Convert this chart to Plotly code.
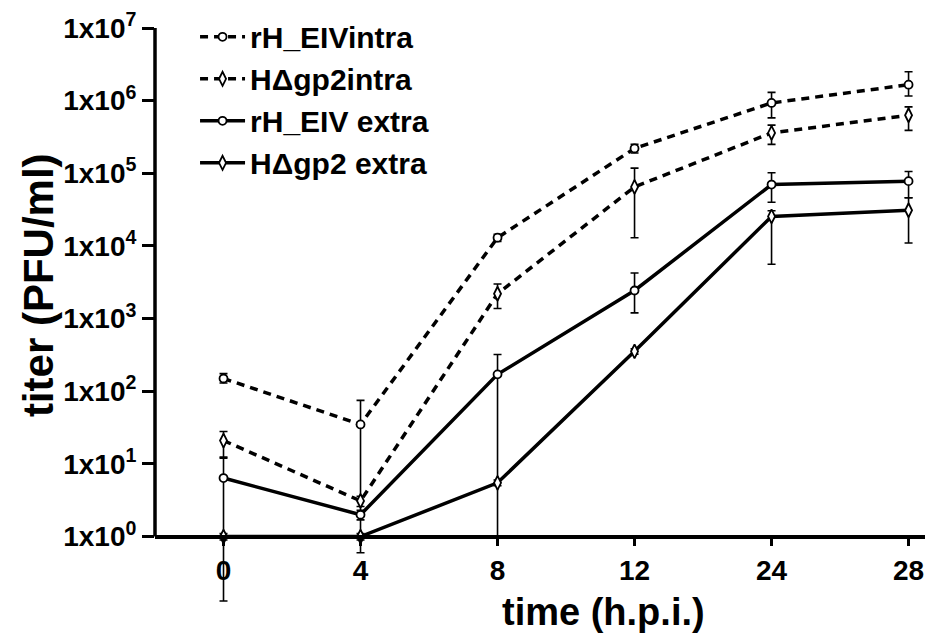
import plotly.graph_objects as go

times = ["0", "4", "8", "12", "24", "28"]

names = ["rH_EIVintra", "HΔgp2intra", "rH_EIV extra", "HΔgp2 extra"]

rh_intra = [150, 35, 13000, 220000, 930000, 1660000]
rh_intra_up = [25, 40, 1500, 30000, 370000, 840000]
rh_intra_dn = [20, 34.4, 1500, 30000, 350000, 500000]

hd_intra = [21, 3.1, 2200, 65000, 360000, 630000]
hd_intra_up = [7, 0.5, 800, 53000, 100000, 190000]
hd_intra_dn = [9, 0.5, 820, 52000, 110000, 240000]

hd_extra = [1.0, 1.0, 5.5, 355, 25500, 31000]
hd_extra_up = [0.1, 0.1, 0.5, 30, 5000, 15000]
hd_extra_dn = [0.1, 0.1, 0.5, 30, 19900, 20000]

rh_extra = [6.4, 2.0, 171, 2440, 70000, 78000]
rh_extra_up = [6.0, 0.3, 150, 1800, 32000, 28000]
rh_extra_dn = [6.27, 0.3, 170, 1240, 30000, 32000]

ytick_vals = [1, 10, 100, 1000, 10000, 100000, 1000000, 10000000]
ytick_text = ["1x10<sup>%d</sup>" % i for i in range(8)]

FONT = "Liberation Sans"

series = [
    (names[0], rh_intra, rh_intra_up, rh_intra_dn, "dash", "circle", 8),
    (names[1], hd_intra, hd_intra_up, hd_intra_dn, "dash", "diamond-tall", 10),
    (names[2], rh_extra, rh_extra_up, rh_extra_dn, "solid", "circle", 8),
    (names[3], hd_extra, hd_extra_up, hd_extra_dn, "solid", "diamond-tall", 10),
]

fig = go.Figure()
for name, vals, up, dn, dash, sym, sz in series:
    fig.add_trace(go.Scatter(
        x=times, y=vals, name=name, mode="lines+markers",
        line=dict(color="black", width=3.5, dash=("8px,6px" if dash == "dash" else "solid")),
        marker=dict(symbol=sym, size=sz, color="white", line=dict(color="black", width=1.8)),
        error_y=dict(type="data", symmetric=False, array=up, arrayminus=dn,
                     color="black", thickness=1.6, width=4),
    ))

ymin, ymax = -0.9, 7.0
fig.update_layout(
    width=933, height=637,
    margin=dict(l=155, r=8, t=21, b=35),
    paper_bgcolor="white", plot_bgcolor="white",
    font=dict(family=FONT, color="black", size=26, weight="bold"),
    showlegend=True,
    legend=dict(x=0.052, y=1.03, xanchor="left", yanchor="top",
                bgcolor="rgba(0,0,0,0)", font=dict(size=30, family=FONT, weight="bold"),
                tracegroupgap=0, itemwidth=45),
    xaxis=dict(type="category", range=[-0.5, 5.12], anchor="free",
               position=(0 - ymin) / (ymax - ymin),
               showline=True, linecolor="black", linewidth=3.5,
               ticks="outside", ticklen=8, tickwidth=3, tickcolor="black",
               showgrid=False, zeroline=False,
               tickfont=dict(size=28, family=FONT, weight="bold")),
    yaxis=dict(type="log", range=[ymin, ymax], showline=False,
               tickvals=ytick_vals, ticktext=ytick_text,
               ticks="outside", ticklen=12, tickwidth=3, tickcolor="black",
               showgrid=False, zeroline=False,
               tickfont=dict(size=28, family=FONT, weight="bold")),
    annotations=[
        dict(text="time (h.p.i.)", xref="paper", yref="paper", x=0.582, y=-0.017,
             xanchor="center", yanchor="middle", showarrow=False,
             font=dict(size=38, family=FONT, weight="bold")),
        dict(text="titer (PFU/ml)", xref="paper", yref="paper", x=-0.152, y=0.552,
             xanchor="center", yanchor="middle", showarrow=False, textangle=-90,
             font=dict(size=42, family=FONT, weight="bold")),
    ],
)
fig.add_shape(type="line", xref="paper", yref="y", x0=0, x1=0, y0=1, y1=1e7,
              line=dict(color="black", width=3.5))

fig.write_html("out.html")
